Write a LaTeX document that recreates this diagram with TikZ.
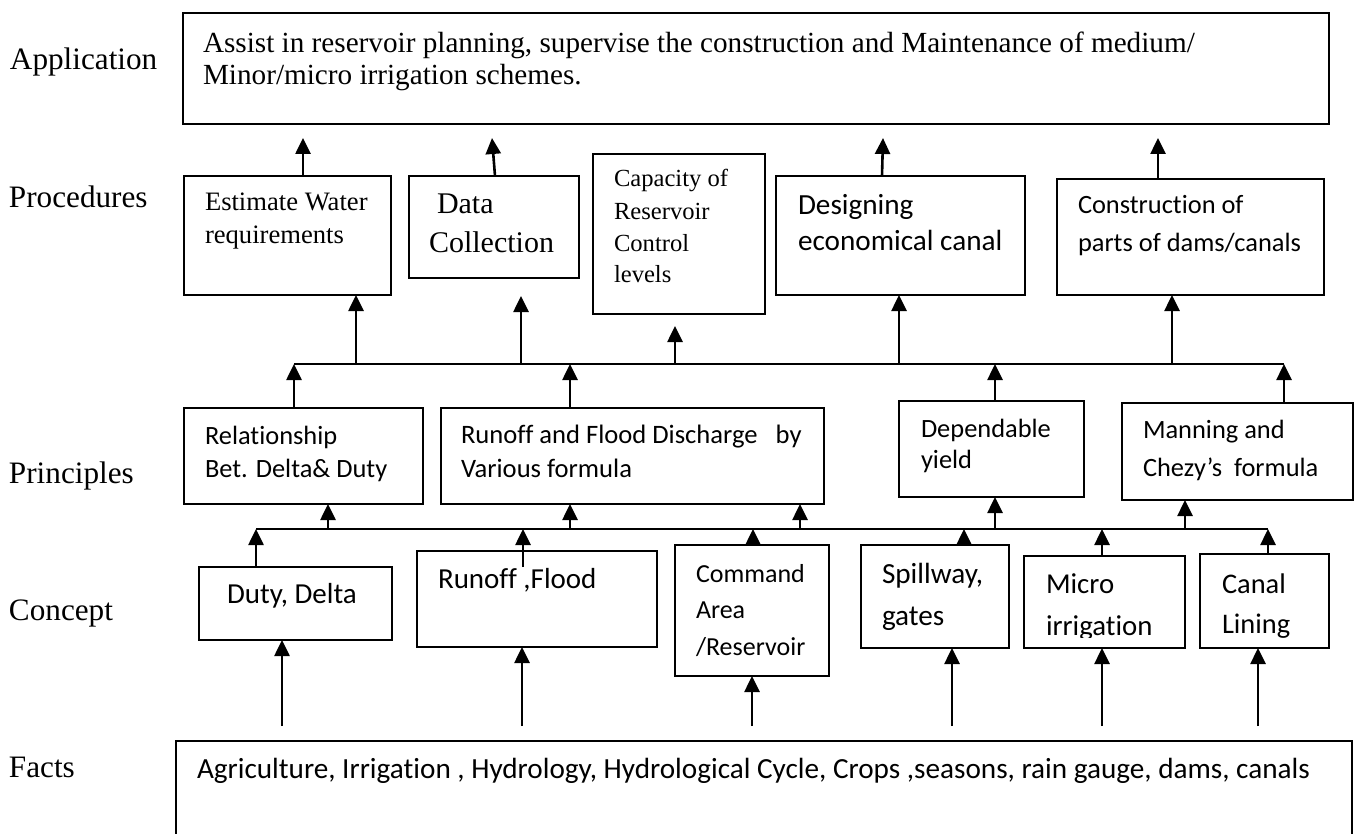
\documentclass[tikz,border=0pt]{standalone}
\usepackage{fontspec}
\newfontfamily\tnrf{Liberation Serif}
\newfontfamily\calf[Ligatures={NoCommon}]{Carlito}
\usetikzlibrary{arrows.meta,fit}
\begin{document}
\begin{tikzpicture}[x=0.5pt,y=-0.5pt,
  box/.style={draw, line width=1pt, inner sep=0pt, outer sep=0pt},
  arr/.style={line width=1.3pt, -{Triangle[width=7.5pt,length=8pt]}},
  busline/.style={line width=1.1pt},
  txt/.style={inner sep=0pt, outer sep=0pt, anchor=base west},
  tnr/.style={txt, font=\tnrf\fontsize{#1}{#1}\selectfont},
  cal/.style={txt, font=\calf\fontsize{#1}{#1}\selectfont},
  lab/.style={tnr=15.6}
]
\useasboundingbox (0,0) rectangle (1359,834);
\clip (0,0) rectangle (1359,834);

% ---------- boxes ----------
\node[box, fit={(183,13) (1329,124)}] (app) {};
\node[box, fit={(184,176) (391,295)}] (est) {};
\node[box, fit={(409,176) (579,278)}] (dat) {};
\node[box, fit={(593,154) (765,314)}] (cap) {};
\node[box, fit={(776,176) (1025,295)}] (des) {};
\node[box, fit={(1057,179) (1324,295)}] (con) {};
\node[box, fit={(184,408) (423,504)}] (rel) {};
\node[box, fit={(441,408) (824,504)}] (run) {};
\node[box, fit={(899,401) (1084,497)}] (dep) {};
\node[box, fit={(1122,403) (1353,500)}] (man) {};
\node[box, fit={(199,567) (392,640)}] (dut) {};
\node[box, fit={(417,551) (657,647)}] (rnf) {};
\node[box, fit={(675,545) (829,676)}] (cmd) {};
\node[box, fit={(861,545) (1009,648)}] (spl) {};
\node[box, fit={(1024,556) (1185,648)}] (mic) {};
\node[box, fit={(1200,554) (1329,648)}] (can) {};
\node[box, fit={(176,741) (1352,870)}] (fac) {};

% ---------- level labels ----------
\node[lab] (lApp) at (10,70) {Application};
\node[lab] (lPro) at (9,208) {Procedures};
\node[lab] (lPri) at (9,483) {Principles};
\node[lab] (lCon) at (9,620) {Concept};
\node[lab] (lFac) at (9,777) {Facts};

% ---------- texts ----------
\node[tnr=14.6] (appA) at (203,53) {Assist in reservoir planning, supervise the construction and Maintenance of medium/};
\node[tnr=14.6] (appB) at (203,85) {Minor/micro irrigation schemes.};

\node[tnr=13.3] (estA) at (205,211) {Estimate Water};
\node[tnr=13.3] (estB) at (205,243) {requirements};
\node[tnr=15] (datA) at (437,214) {Data};
\node[tnr=15] (datB) at (429,253) {Collection};
\node[tnr=12.3] (capA) at (614,187) {Capacity of};
\node[tnr=12.3] (capB) at (614,220) {Reservoir};
\node[tnr=12.3] (capC) at (614,251) {Control};
\node[tnr=12.3] (capD) at (614,283) {levels};
\node[cal=14.6] (desA) at (798,215) {Designing};
\node[cal=14.6] (desB) at (798,250) {economical canal};
\node[cal=13.2] (conA) at (1078,214) {Construction of};
\node[cal=13.2] (conB) at (1078,251) {parts of dams/canals};

\node[cal=13.2] (relA) at (205,444) {Relationship};
\node[cal=13.2] (relB) at (205,477) {Bet. Delta\& Duty};
\node[cal=13.3] (runA) at (461,443) {Runoff and Flood Discharge\ \ \ by};
\node[cal=13.3] (runB) at (461,477) {Various formula};
\node[cal=13.2] (depA) at (921,437) {Dependable};
\node[cal=13.2] (depB) at (921,468) {yield};
\node[cal=13.2] (manA) at (1143,438) {Manning and};
\node[cal=13.2] (manB) at (1143,476) {Chezy’s\ \ formula};

\node[cal=14.5] (dutA) at (227,603) {Duty, Delta};
\node[cal=14.5] (rnfA) at (438,588) {Runoff ,Flood};
\node[cal=13] (cmdA) at (696,582) {Command};
\node[cal=13] (cmdB) at (696,618) {Area};
\node[cal=13] (cmdC) at (696,655) {/Reservoir};
\node[cal=14.6] (splA) at (882,583) {Spillway,};
\node[cal=14.6] (splB) at (882,625) {gates};
\node[cal=14.4] (micA) at (1046,593) {Micro};
\node[cal=14.2] (canA) at (1222,593) {Canal};
\begin{scope}
  \clip (1024,556) rectangle (1329,637);
  \node[cal=14.4] (micB) at (1046,635) {irrigation};
  \node[cal=14.2] (canB) at (1222,633) {Lining};
\end{scope}

\node[cal=14.6] (facA) at (197,778) {Agriculture, Irrigation , Hydrology, Hydrological Cycle, Crops ,seasons, rain gauge, dams, canals};

% ---------- procedures -> application ----------
\coordinate (tEst) at (303,138);
\coordinate (tDat) at (492,138);
\coordinate (sDat) at (495,176);
\coordinate (tDes) at (883,138);
\coordinate (sDes) at (882,176);
\coordinate (tCon) at (1158,138);
\draw[arr] (tEst |- est.north) -- (tEst);
\draw[arr] (sDat) -- (tDat);
\draw[arr] (sDes) -- (tDes);
\draw[arr] (tCon |- con.north) -- (tCon);

% ---------- bus 1 ----------
\coordinate (b1L) at (294,364);
\coordinate (b1R) at (1284,364);
\draw[busline] (b1L) -- (b1R);
\coordinate (b1a) at (356,364);
\coordinate (b1b) at (521,364);
\coordinate (b1c) at (675,364);
\coordinate (b1d) at (899,364);
\coordinate (b1e) at (1172,364);
\coordinate (t1b) at (521,296);
\coordinate (t1c) at (675,326);
\draw[arr] (b1a) -- (b1a |- est.south);
\draw[arr] (b1b) -- (t1b);
\draw[arr] (b1c) -- (t1c);
\draw[arr] (b1d) -- (b1d |- des.south);
\draw[arr] (b1e) -- (b1e |- con.south);
\coordinate (b1f) at (570,364);
\coordinate (b1g) at (995,364);
\draw[arr] (b1L |- rel.north) -- (b1L);
\draw[arr] (b1f |- run.north) -- (b1f);
\draw[arr] (b1g |- dep.north) -- (b1g);
\draw[arr] (b1R |- man.north) -- (b1R);

% ---------- bus 2 ----------
\coordinate (b2L) at (256,529);
\coordinate (b2R) at (1268,529);
\draw[busline] (b2L) -- (b2R);
\coordinate (b2a) at (328,529);
\coordinate (b2b) at (570,529);
\coordinate (b2c) at (800,529);
\coordinate (b2d) at (995,529);
\coordinate (b2e) at (1185,529);
\draw[arr] (b2a) -- (b2a |- rel.south);
\draw[arr] (b2b) -- (b2b |- run.south);
\draw[arr] (b2c) -- (b2c |- run.south);
\draw[arr] (b2d) -- (b2d |- dep.south);
\draw[arr] (b2e) -- (b2e |- man.south);
\coordinate (b2f) at (523,529);
\coordinate (s2f) at (523,567);
\coordinate (b2g) at (753,529);
\coordinate (b2h) at (964,529);
\coordinate (b2i) at (1102,529);
\draw[arr] (b2L |- dut.north) -- (b2L);
\draw[arr] (s2f) -- (b2f);
\draw[arr] (b2g |- cmd.north) -- (b2g);
\draw[arr] (b2h |- spl.north) -- (b2h);
\draw[arr] (b2i |- mic.north) -- (b2i);
\draw[arr] (b2R |- can.north) -- (b2R);

% ---------- facts -> concepts ----------
\coordinate (f1) at (282,726);
\coordinate (f2) at (522,726);
\coordinate (f3) at (752,726);
\coordinate (f4) at (952,726);
\coordinate (f5) at (1102,726);
\coordinate (f6) at (1258,726);
\draw[arr] (f1) -- (f1 |- dut.south);
\draw[arr] (f2) -- (f2 |- rnf.south);
\draw[arr] (f3) -- (f3 |- cmd.south);
\draw[arr] (f4) -- (f4 |- spl.south);
\draw[arr] (f5) -- (f5 |- mic.south);
\draw[arr] (f6) -- (f6 |- can.south);
\end{tikzpicture}
\end{document}
